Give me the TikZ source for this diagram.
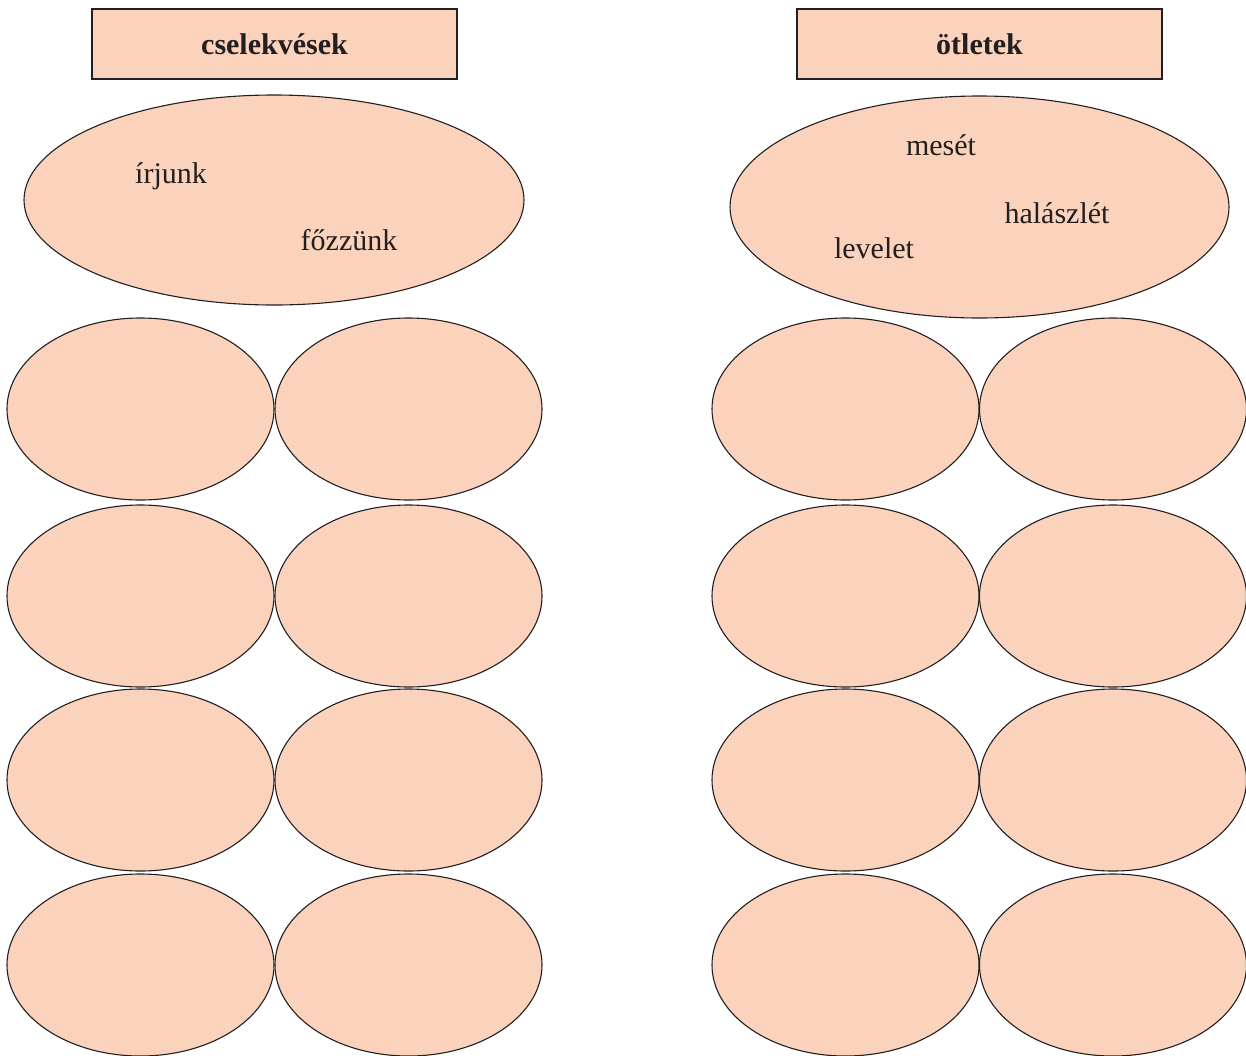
\documentclass[tikz,border=0pt]{standalone}
\usepackage{fontspec}
\setmainfont{Liberation Serif}
\definecolor{peach}{HTML}{FBD3BC}
\definecolor{ink}{HTML}{231F20}
\begin{document}
\begin{tikzpicture}[x=1pt,y=-1pt,
  bubble/.style={draw=ink,fill=peach,line width=1.1pt},
  word/.style={text=ink,font=\fontsize{30}{34}\selectfont,inner sep=0pt},
  head/.style={draw=ink,fill=peach,line width=1.1pt,minimum width=365pt,minimum height=70pt,inner sep=0pt,font=\fontsize{30}{34}\selectfont\bfseries,text=ink}]
\useasboundingbox (0,0) rectangle (1246,1055);
\node[head] (h1) at (274.5,44) {cselekvések};
\node[head] (h2) at (979.5,44) {ötletek};
\draw[bubble] (274,200) ellipse [x radius=250, y radius=105];
\draw[bubble] (979.5,207) ellipse [x radius=249.5, y radius=111];
\foreach \cx in {140.5,408.5,845.5,1113}{
  \foreach \cy in {409,596,780,965}{
    \draw[bubble] (\cx,\cy) ellipse [x radius=133.5, y radius=91];
  }
}
\node[word] (w1) at (171,176) {írjunk};
\node[word] (w2) at (349,240) {főzzünk};
\node[word] (w3) at (941,145) {mesét};
\node[word] (w4) at (1057,213) {halászlét};
\node[word] (w5) at (874,248) {levelet};
\end{tikzpicture}
\end{document}
